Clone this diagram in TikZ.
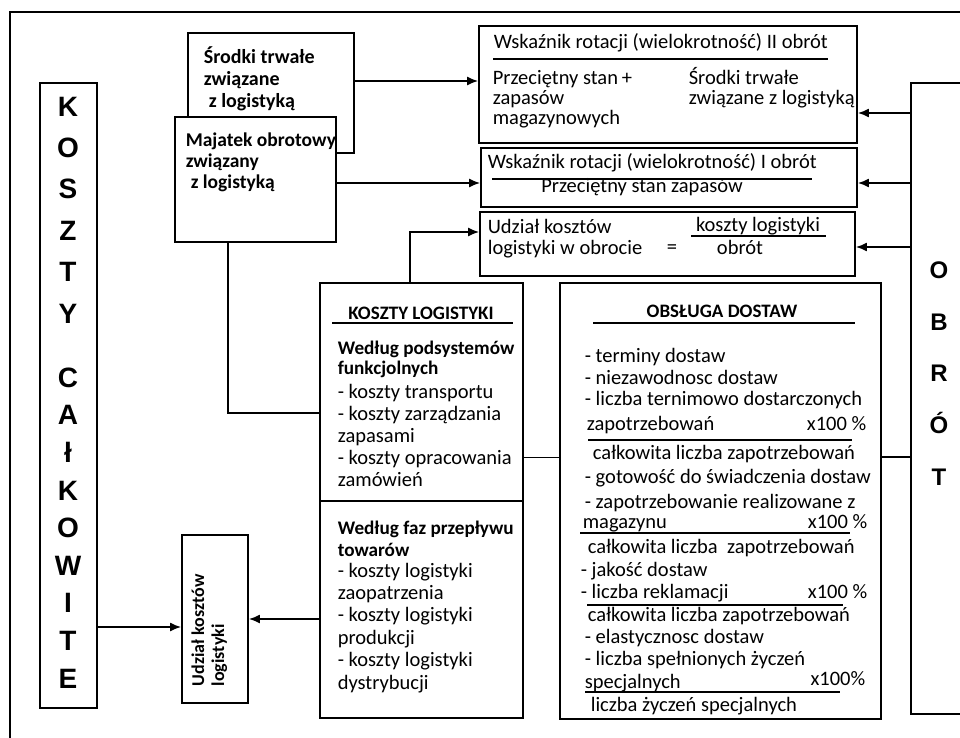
\documentclass[tikz,border=0pt]{standalone}
\usepackage{fontspec}
\setmainfont{Carlito}
\newfontfamily\bigfont{Liberation Sans}
\usetikzlibrary{arrows.meta}
\tikzset{
  box/.style={draw, line width=1.8pt, fill=white, inner sep=0pt},
  txt/.style={anchor=base west, inner sep=0pt, align=left, font=\fontsize{20.5}{22}\selectfont},
  btxt/.style={txt, font=\fontsize{20}{22}\selectfont\bfseries},
  big/.style={inner sep=0pt, align=center, font=\bigfont\bfseries\fontsize{28}{41.4}\selectfont},
  rule/.style={line width=1.4pt}
}
\begin{document}
\begin{tikzpicture}[x=1pt, y=-1pt, >={Latex[length=11pt,width=9pt]}, line width=1.6pt]
\useasboundingbox (0,0) rectangle (960,738);
\clip (0,0) rectangle (960,738);
\fill[white] (0,0) rectangle (960,738);
\draw[line width=1.5pt] (10,12) rectangle (1000,800);

\node[box, minimum width=57pt, minimum height=625pt] (kc) at (68.5,395.5) {};
\node[box, minimum width=166pt, minimum height=120pt] (sro) at (271,93) {};
\node[box, minimum width=161pt, minimum height=125pt] (maj) at (255.5,179.5) {};
\node[box, minimum width=378pt, minimum height=117pt] (wr2) at (668,84.5) {};
\node[box, minimum width=376pt, minimum height=59pt] (wr1) at (669,177.5) {};
\node[box, minimum width=375pt, minimum height=64pt] (udz) at (667.5,244) {};
\node[box, minimum width=120pt, minimum height=631pt] (obr) at (971,398.5) {};
\node[box, minimum width=203pt, minimum height=435pt] (kl) at (421.5,500.5) {};
\node[box, minimum width=321pt, minimum height=436pt] (od) at (720.5,501) {};
\node[box, minimum width=66pt, minimum height=168pt] (uk) at (215,619) {};
\draw[line width=1.8pt] (kl.west |- 0,501) -- (kl.east |- 0,501);

\coordinate (sroOut) at ([yshift=3.5pt]wr2.west);
\draw[->] (sroOut -| sro.east) -- (sroOut);
\coordinate (majOut) at ([yshift=-3.5pt]maj.east);
\draw[->] (majOut) -- (majOut -| wr1.west);
\coordinate (udzIn) at ([yshift=12pt]udz.west);
\draw[->] ([xshift=-11.5pt]kl.north) |- (udzIn);
\coordinate (klIn) at ([yshift=87.5pt]kl.west);
\draw ([xshift=-27.5pt]maj.south) |- (klIn);
\draw[->] (kl.west |- uk.east) -- (uk.east);
\coordinate (ukIn) at ([yshift=-8pt]uk.west);
\draw[->] (ukIn -| kc.east) -- (ukIn);
\coordinate (klOut) at ([yshift=43pt]kl.east);
\draw (klOut) -- (klOut -| od.west);
\coordinate (odOut) at ([yshift=44pt]od.east);
\draw (odOut) -- (odOut -| obr.west);
\coordinate (obrA) at ([yshift=-28.5pt]wr2.east);
\draw[->] (obrA -| obr.west) -- (obrA);
\coordinate (obrB) at ([yshift=-5.5pt]wr1.east);
\draw[->] (obrB -| obr.west) -- (obrB);
\coordinate (obrC) at ([yshift=-3pt]udz.east);
\draw[->] (obrC -| obr.west) -- (obrC);

\node[big] (kcA) at (68,210) {K\\O\\S\\Z\\T\\Y};
\node[big, font=\bigfont\bfseries\fontsize{28}{37.6}\selectfont] (kcB) at (68,528) {C\\A\\ł\\K\\O\\W\\I\\T\\E};
\node[big, font=\bigfont\bfseries\fontsize{24}{51.75}\selectfont] (obrT) at (939,373.5) {O\\B\\R\\Ó\\T};

\node[btxt] (sroT) at (203,108) {Środki trwałe\\związane\\\hspace{5pt}z logistyką};
\node[btxt, font=\fontsize{19.5}{21}\selectfont\bfseries] (majT) at (185,189) {Majatek obrotowy\\związany\\\hspace{5pt}z logistyką};

\node[txt] (wr2T) at (493,49) {Wskaźnik rotacji (wielokrotność) II obrót};
\draw[rule] (493,59) -- (828,59);
\node[txt, font=\fontsize{20.5}{20}\selectfont] (wr2L) at (492,125) {Przeciętny stan\\zapasów\\magazynowych};
\node[txt, anchor=center] (wr2P) at (627,79) {+};
\node[txt, font=\fontsize{20.5}{20}\selectfont] (wr2R) at (688,105) {Środki trwałe\\związane z logistyką};

\node[txt] (wr1T) at (487,169) {Wskaźnik rotacji (wielokrotność) I obrót};
\draw[rule] (492,179) -- (812,179);
\node[txt, anchor=base] (wr1B) at (642,193) {Przeciętny stan zapasów};

\node[txt, font=\fontsize{20.5}{21}\selectfont] (udzT) at (487,254) {Udział kosztów\\logistyki w obrocie};
\node[txt, anchor=center] (udzEq) at (672,249) {=};
\node[txt, anchor=base] (udzL) at (758,231) {koszty logistyki};
\draw[rule] (691,236) -- (826,236);
\node[txt, anchor=base] (udzO) at (740,254) {obrót};

\node[btxt, anchor=base, font=\fontsize{19}{22}\selectfont\bfseries] (klT) at (421,319) {KOSZTY LOGISTYKI};
\draw[rule] (332,323) -- (513,323);
\node[btxt, font=\fontsize{19.2}{20}\selectfont\bfseries] (klA1) at (337,374) {Według podsystemów\\funkcjolnych};
\node[txt] (klA2) at (337,486) {- koszty transportu\\- koszty zarządzania\\zapasami\\- koszty opracowania\\zamówień};
\node[btxt, font=\fontsize{19.2}{22}\selectfont\bfseries] (klB1) at (337,556) {Według faz przepływu\\towarów};
\node[txt, font=\fontsize{20.5}{22.4}\selectfont] (klB2) at (337,689) {- koszty logistyki\\zaopatrzenia\\- koszty logistyki\\produkcji\\- koszty logistyki\\dystrybucji};

\node[btxt, anchor=base, font=\fontsize{19}{22}\selectfont\bfseries] (odT) at (722,317) {OBSŁUGA DOSTAW};
\draw[rule] (593,323) -- (855,323);
\node[txt] (od1) at (584,362) {- terminy dostaw};
\node[txt] (od2) at (584,384) {- niezawodnosc dostaw};
\node[txt] (od3) at (584,405) {- liczba ternimowo dostarczonych};
\node[txt] (od4) at (586,430) {zapotrzebowań};
\node[txt, anchor=base east] (od4p) at (867,430) {x100 \%};
\draw[rule] (588,440) -- (852,440);
\node[txt] (od5) at (592,459) {całkowita liczba zapotrzebowań};
\node[txt] (od6) at (584,483) {- gotowość do świadczenia dostaw};
\node[txt] (od7) at (584,508) {- zapotrzebowanie realizowane z};
\node[txt] (od8) at (582,528) {magazynu};
\node[txt, anchor=base east] (od8p) at (868,528) {x100 \%};
\draw[rule] (580,533) -- (850,533);
\node[txt] (od9) at (587,553) {całkowita liczba\ \ zapotrzebowań};
\node[txt] (od10) at (580,576) {- jakość dostaw};
\node[txt] (od11) at (580,598) {- liczba reklamacji};
\node[txt, anchor=base east] (od11p) at (868,598) {x100 \%};
\draw[rule] (587,605) -- (843,605);
\node[txt] (od12) at (587,621) {całkowita liczba zapotrzebowań};
\node[txt] (od13) at (584,643) {- elastycznosc dostaw};
\node[txt] (od14) at (584,665) {- liczba spełnionych życzeń};
\node[txt] (od15) at (584,688) {specjalnych};
\node[txt, anchor=base east] (od15p) at (866,685) {x100\%};
\draw[rule] (585,692) -- (840,692);
\node[txt] (od16) at (590,711) {liczba życzeń specjalnych};

\node[btxt, rotate=90, font=\fontsize{18}{20}\selectfont\bfseries] (ukT) at (224,687) {Udział kosztów\\logistyki};
\end{tikzpicture}
\end{document}
